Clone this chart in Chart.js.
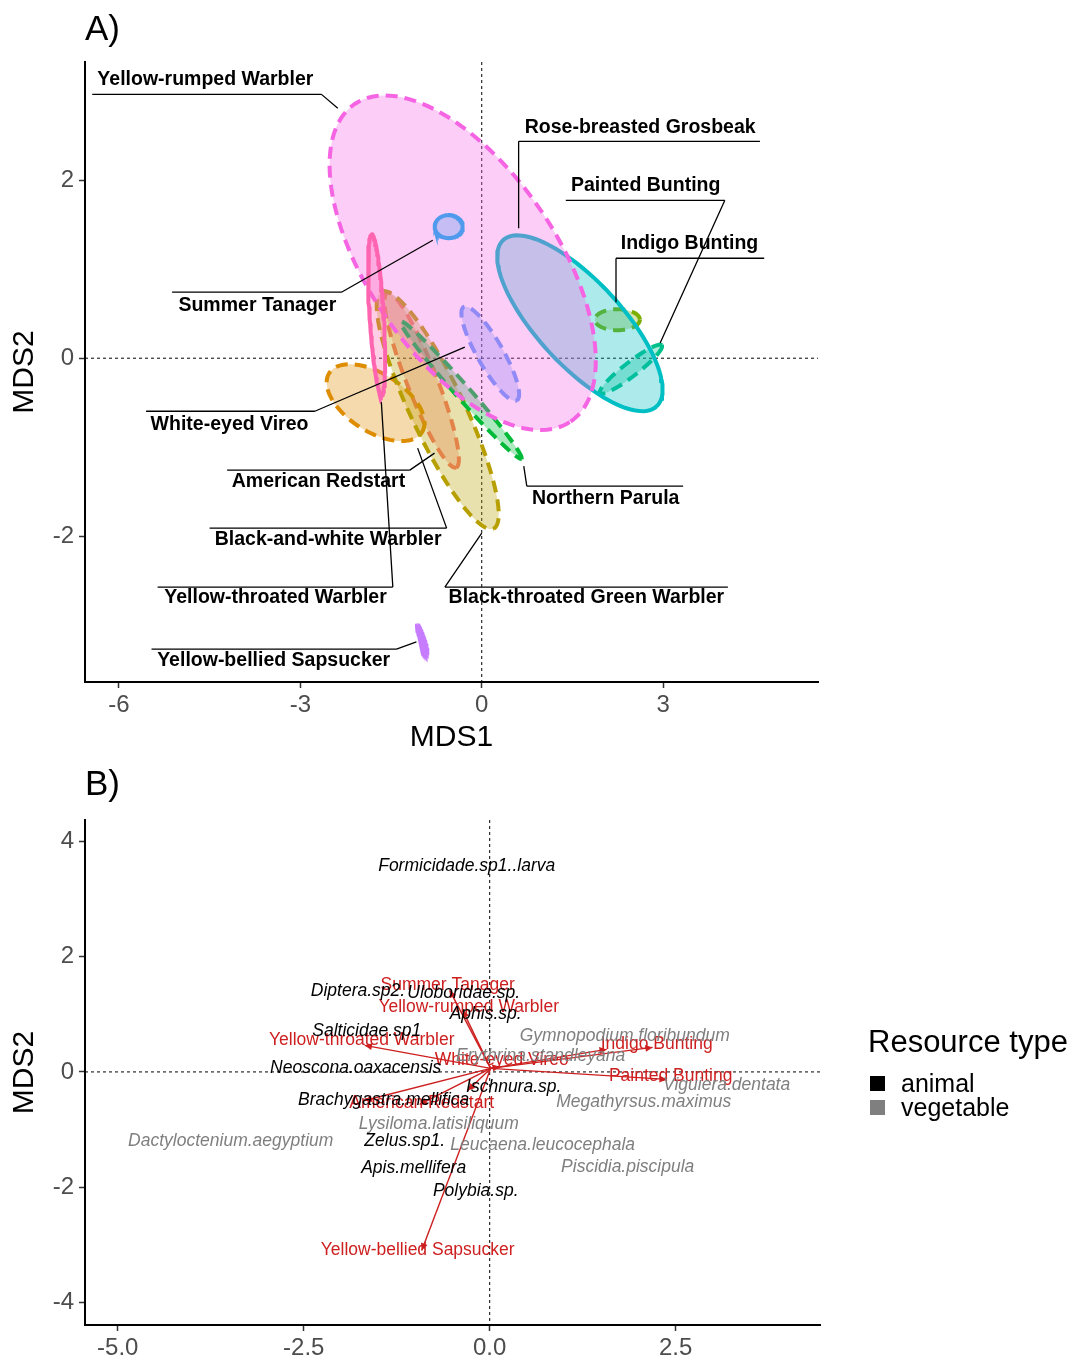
<!DOCTYPE html>
<html>
<head>
<meta charset="utf-8">
<script src="https://cdn.jsdelivr.net/npm/chart.js@4.4.1/dist/chart.umd.min.js"></script>
<style>
  body { margin: 0; background: #fff; font-family: "Liberation Sans", Arial, sans-serif; }
  #wrap { position: relative; width: 1073px; height: 1362px; overflow: hidden; }
  canvas { position: absolute; left: 0; }
  .tag { position: absolute; font-size: 35px; line-height: 40px; color: #000; }
  .leg { position: absolute; color: #000; white-space: nowrap; }
  .key { position: absolute; width: 15px; height: 15px; }
</style>
</head>
<body>
<div id="wrap">
  <canvas id="chartA" width="1073" height="760" style="top:0"></canvas>
  <canvas id="chartB" width="1073" height="602" style="top:760px"></canvas>
  <div class="tag" style="left:85px;top:8px">A)</div>
  <div class="tag" style="left:85px;top:763px">B)</div>
  <div class="leg" style="left:868px;top:1024px;font-size:31px;line-height:36px">Resource type</div>
  <div class="key" style="left:870px;top:1076px;background:#000"></div>
  <div class="leg" style="left:901px;top:1068px;font-size:25px;line-height:30px">animal</div>
  <div class="key" style="left:870px;top:1100px;background:#7F7F7F"></div>
  <div class="leg" style="left:901px;top:1092px;font-size:25px;line-height:30px">vegetable</div>
</div>
<script>
const FONT = '"Liberation Sans", Arial, sans-serif';
Chart.defaults.font.family = FONT;

// ---------- Panel A: species ellipses (centre + semi-axis vectors, MDS units) ----------
const species = ['American Redstart', 'Black-and-white Warbler', 'Black-throated Green Warbler',
  'Indigo Bunting', 'Northern Parula', 'Painted Bunting', 'Rose-breasted Grosbeak', 'Summer Tanager',
  'White-eyed Vireo', 'Yellow-bellied Sapsucker', 'Yellow-rumped Warbler', 'Yellow-throated Warbler'];
const ellColors = ['#F8766D', '#DE8C00', '#B79F00', '#7CAE00', '#00BA38', '#00C08B', '#00BFC4',
  '#00B4F0', '#619CFF', '#C77CFF', '#F564E3', '#FF64B0'];
const ellDashed = [true, true, true, true, true, true, false, false, true, false, true, false];
const ellCX = [-0.993, -1.755, -0.728, 2.243, -0.339, 2.467, 1.623, -0.546, 0.141, -0.985, -0.315, -1.738];
const ellCY = [-0.247, -0.5, -0.584, 0.433, -0.36, -0.124, 0.393, 1.48, 0.051, -3.157, 1.073, 0.489];
const ellMajX = [0.57, 0.766, 0.924, 0.372, 0.995, 0.51, 1.268, 0.232, 0.439, 0.081, 1.785, 0.081];
const ellMajY = [-0.982, -0.334, -1.332, 0, -0.769, 0.269, -0.935, 0, -0.525, -0.16, -1.785, -0.902];
const ellMinX = [0.231, 0.26, 0.404, 0, 0.087, 0.071, 0.512, 0, 0.187, 0.031, 1.288, 0.116];
const ellMinY = [0.062, 0.274, 0.129, 0.118, 0.052, -0.062, 0.32, 0.129, 0.072, 0.007, 0.593, 0.005];

// label boxes for panel A: text centre, underline, leader end point
const labText = ['Yellow-rumped Warbler', 'Rose-breasted Grosbeak', 'Painted Bunting', 'Indigo Bunting',
  'Summer Tanager', 'White-eyed Vireo', 'American Redstart', 'Black-and-white Warbler',
  'Yellow-throated Warbler', 'Yellow-bellied Sapsucker', 'Northern Parula', 'Black-throated Green Warbler'];
const labX = [-4.57, 2.62, 2.71, 3.435, -3.71, -4.17, -2.70, -2.54, -3.41, -3.44, 2.05, 1.73];
const labY = [3.135, 2.595, 1.944, 1.292, 0.596, -0.742, -1.393, -2.045, -2.697, -3.404, -1.573, -2.697];
const lineY = [2.966, 2.438, 1.775, 1.124, 0.742, -0.596, -1.258, -1.91, -2.573, -3.27, -1.438, -2.573];
const lineX1 = [-6.44, 0.61, 1.39, 2.22, -5.12, -5.55, -4.21, -4.50, -5.36, -5.46, 0.745, -0.61];
const lineX2 = [-2.65, 4.60, 4.02, 4.67, -2.32, -2.76, -1.19, -0.58, -1.47, -1.41, 3.33, 4.07];
const leadSide = ['R', 'L', 'R', 'L', 'R', 'R', 'R', 'R', 'R', 'R', 'L', 'L'];
const leadX = [-2.38, 0.61, 2.95, 2.22, -0.81, -0.28, -0.78, -1.06, -1.66, -1.08, 0.695, 0];
const leadY = [2.81, 1.46, 0.17, 0.63, 1.326, 0.124, -1.067, -1.011, -0.494, -3.19, -1.213, -1.966];

const xTicksA = [-6, -3, 0, 3];
const yTicksA = [-2, 0, 2];

// ---------- Panel B: fitted vectors and resource scores ----------
const RED = '#CD1F1F';
const arrowOrigin = { x: 0.013, y: 0.061 };
const arrowX = [-0.538, -0.363, -1.68, 0.134, 1.573, 2.19, 2.379, -0.941, -1.68, -0.296, -0.914];
const arrowY = [1.415, 1.068, 0.46, 0.095, 0.391, 0.425, -0.13, -0.564, -0.495, -0.321, -3.099];

const birdNames = ['Summer Tanager', 'Yellow-rumped Warbler', 'Yellow-throated Warbler', 'White-eyed Vireo',
  'Indigo Bunting', 'Painted Bunting', 'American Redstart', 'Yellow-bellied Sapsucker'];
const birdX = [-0.565, -0.282, -1.72, 0.161, 2.245, 2.433, -0.914, -0.968];
const birdY = [1.502, 1.12, 0.547, 0.2, 0.477, -0.078, -0.547, -3.099];

const resNames = ['Formicidade.sp1..larva', 'Diptera.sp2.', 'Uloboridae.sp.', 'Aphis.sp.', 'Salticidae.sp1',
  'Neoscona.oaxacensis', 'Ischnura.sp.', 'Brachygastra.mellifica', 'Zelus.sp1.', 'Apis.mellifera', 'Polybia.sp.',
  'Gymnopodium.floribundum', 'Erythrina.standleyana', 'Viguiera.dentata', 'Megathyrsus.maximus',
  'Lysiloma.latisiliquum', 'Dactyloctenium.aegyptium', 'Leucaena.leucocephala', 'Piscidia.piscipula'];
const resX = [-0.309, -1.77, -0.349, -0.054, -1.653, -1.801, 0.323, -1.425, -1.142, -1.022, -0.188,
  1.815, 0.685, 3.185, 2.07, -0.685, -3.481, 0.712, 1.855];
const resY = [3.568, 1.398, 1.363, 0.998, 0.703, 0.061, -0.269, -0.495, -1.207, -1.675, -2.075,
  0.616, 0.269, -0.234, -0.53, -0.911, -1.207, -1.276, -1.658];
const resType = ['animal', 'animal', 'animal', 'animal', 'animal', 'animal', 'animal', 'animal', 'animal', 'animal', 'animal',
  'vegetable', 'vegetable', 'vegetable', 'vegetable', 'vegetable', 'vegetable', 'vegetable', 'vegetable'];
const typeColors = { animal: '#000000', vegetable: '#7F7F7F' };

const xTicksB = [-5, -2.5, 0, 2.5];
const yTicksB = [-4, -2, 0, 2, 4];

function withAlpha(hex, a) {
  const n = parseInt(hex.slice(1), 16);
  return `rgba(${n >> 16},${(n >> 8) & 255},${n & 255},${a})`;
}

function ellipsePoints(i) {
  const pts = [];
  for (let k = 0; k <= 120; k++) {
    const t = k / 120 * Math.PI * 2;
    pts.push({
      x: ellCX[i] + ellMajX[i] * Math.cos(t) + ellMinX[i] * Math.sin(t),
      y: ellCY[i] + ellMajY[i] * Math.cos(t) + ellMinY[i] * Math.sin(t)
    });
  }
  return pts;
}

// dotted reference lines through 0,0
const zeroLines = {
  id: 'zeroLines',
  beforeDatasetsDraw(chart) {
    const { ctx, chartArea: a, scales: { x, y } } = chart;
    const px = x.getPixelForValue(0), py = y.getPixelForValue(0);
    ctx.save();
    ctx.strokeStyle = '#000';
    ctx.lineWidth = 1;
    ctx.setLineDash([3, 3]);
    ctx.beginPath();
    ctx.moveTo(px, a.top); ctx.lineTo(px, a.bottom);
    ctx.moveTo(a.left, py); ctx.lineTo(a.right, py);
    ctx.stroke();
    ctx.restore();
  }
};

function makeScales(xr, yr, xt, yt, xFmt, xTitle, xHeight) {
  const tickFont = { size: 24, family: FONT };
  const grid = { drawOnChartArea: false, drawTicks: true, tickLength: 6, tickColor: '#333', tickWidth: 1.5 };
  const border = { display: true, color: '#000', width: 2 };
  return {
    x: {
      type: 'linear', min: xr[0], max: xr[1],
      afterBuildTicks: s => { s.ticks = xt.map(v => ({ value: v })); },
      afterFit: s => { s.height = xHeight; },
      ticks: { font: tickFont, color: '#4D4D4D', padding: 3, maxRotation: 0, autoSkip: false, callback: xFmt },
      grid, border,
      title: { display: !!xTitle, text: xTitle, color: '#000', font: { size: 30, family: FONT }, padding: { top: 0, bottom: 4 } }
    },
    y: {
      type: 'linear', min: yr[0], max: yr[1],
      afterBuildTicks: s => { s.ticks = yt.map(v => ({ value: v })); },
      afterFit: s => { s.width = 85; },
      ticks: { font: tickFont, color: '#4D4D4D', padding: 5, autoSkip: false, callback: v => String(v) },
      grid, border,
      title: { display: true, text: 'MDS2', color: '#000', font: { size: 30, family: FONT }, padding: { top: 7, bottom: 0 } }
    }
  };
}

// leader labels for panel A
const ellipseLabels = {
  id: 'ellipseLabels',
  afterDatasetsDraw(chart) {
    const { ctx, scales: { x, y } } = chart;
    ctx.save();
    ctx.strokeStyle = '#000';
    ctx.lineWidth = 1.3;
    ctx.fillStyle = '#000';
    ctx.font = 'bold 19.5px ' + FONT;
    ctx.textAlign = 'center';
    ctx.textBaseline = 'middle';
    labText.forEach((t, i) => {
      const ly = y.getPixelForValue(lineY[i]);
      const x1 = x.getPixelForValue(lineX1[i]), x2 = x.getPixelForValue(lineX2[i]);
      const sx = leadSide[i] === 'L' ? x1 : x2;
      ctx.beginPath();
      ctx.moveTo(x1, ly); ctx.lineTo(x2, ly);
      ctx.moveTo(sx, ly); ctx.lineTo(x.getPixelForValue(leadX[i]), y.getPixelForValue(leadY[i]));
      ctx.stroke();
      ctx.fillText(t, x.getPixelForValue(labX[i]), y.getPixelForValue(labY[i]));
    });
    ctx.restore();
  }
};

new Chart(document.getElementById('chartA'), {
  type: 'scatter',
  data: {
    datasets: species.map((s, i) => ({
      label: s,
      data: ellipsePoints(i),
      showLine: true,
      borderColor: ellColors[i],
      backgroundColor: withAlpha(ellColors[i], 0.32),
      borderWidth: 4,
      borderDash: ellDashed[i] ? [12, 7] : [],
      fill: 'shape',
      pointRadius: 0,
      tension: 0,
      order: species.length - i
    }))
  },
  options: {
    responsive: false,
    animation: false,
    devicePixelRatio: 1,
    layout: { padding: { top: 62, right: 255, left: 0, bottom: 0 } },
    plugins: { legend: { display: false }, tooltip: { enabled: false } },
    scales: makeScales([-6.56, 5.56], [-3.64, 3.33], xTicksA, yTicksA, v => String(v), 'MDS1', 78)
  },
  plugins: [zeroLines, ellipseLabels]
});

// arrowheads and text for panel B
const biplotText = {
  id: 'biplotText',
  afterDatasetsDraw(chart) {
    const { ctx, scales: { x, y } } = chart;
    ctx.save();
    ctx.fillStyle = RED;
    chart.data.datasets.forEach((ds, i) => {
      const pts = chart.getDatasetMeta(i).data;
      const a = pts[0], b = pts[1];
      const ang = Math.atan2(b.y - a.y, b.x - a.x);
      const L = 8, W = 0.45;
      ctx.beginPath();
      ctx.moveTo(b.x, b.y);
      ctx.lineTo(b.x - L * Math.cos(ang - W), b.y - L * Math.sin(ang - W));
      ctx.lineTo(b.x - L * Math.cos(ang + W), b.y - L * Math.sin(ang + W));
      ctx.closePath();
      ctx.fill();
    });
    ctx.textAlign = 'center';
    ctx.textBaseline = 'middle';
    ctx.font = '17.5px ' + FONT;
    birdNames.forEach((t, i) => {
      ctx.fillText(t, x.getPixelForValue(birdX[i]), y.getPixelForValue(birdY[i]));
    });
    ctx.font = 'italic 17.5px ' + FONT;
    resNames.forEach((t, i) => {
      ctx.fillStyle = typeColors[resType[i]];
      ctx.fillText(t, x.getPixelForValue(resX[i]), y.getPixelForValue(resY[i]));
    });
    ctx.restore();
  }
};

new Chart(document.getElementById('chartB'), {
  type: 'scatter',
  data: {
    datasets: arrowX.map((ax, i) => ({
      data: [arrowOrigin, { x: ax, y: arrowY[i] }],
      showLine: true,
      borderColor: RED,
      borderWidth: 1.4,
      pointRadius: 0,
      tension: 0
    }))
  },
  options: {
    responsive: false,
    animation: false,
    devicePixelRatio: 1,
    layout: { padding: { top: 60, right: 253, left: 0, bottom: 0 } },
    plugins: { legend: { display: false }, tooltip: { enabled: false } },
    scales: makeScales([-5.44, 4.44], [-4.39, 4.37], xTicksB, yTicksB, v => v.toFixed(1), '', 37)
  },
  plugins: [zeroLines, biplotText]
});
</script>
</body>
</html>
